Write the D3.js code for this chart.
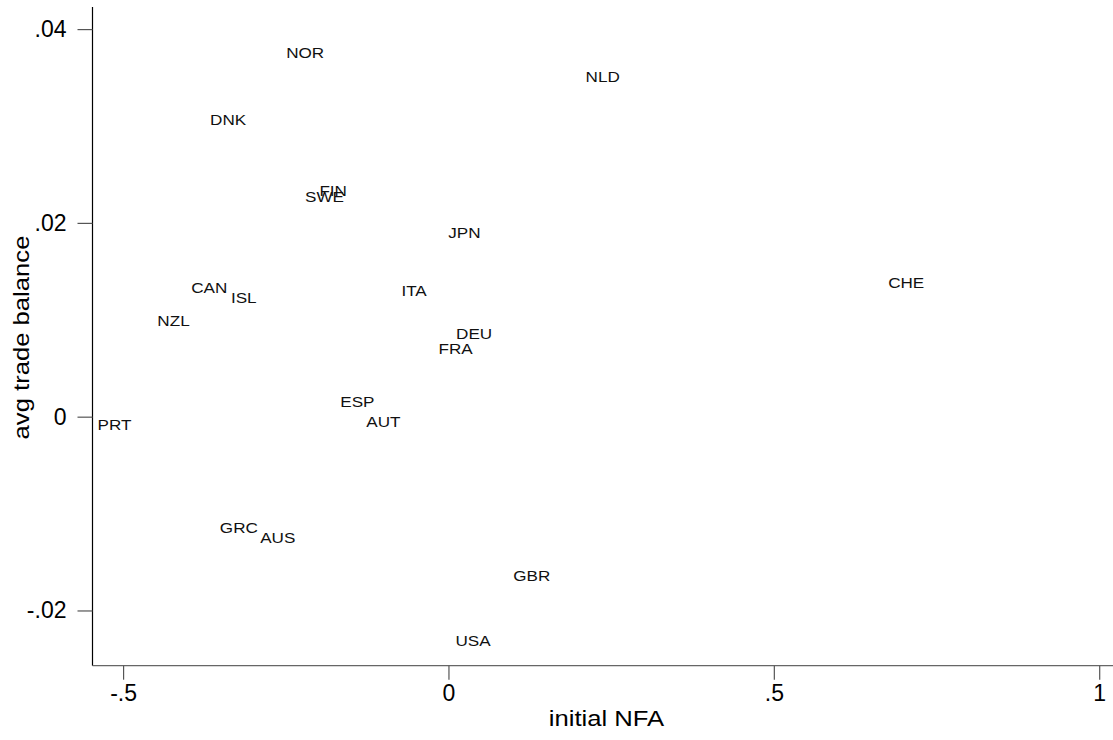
<!DOCTYPE html>
<html>
<head>
<meta charset="utf-8">
<script src="https://cdn.jsdelivr.net/npm/d3@7"></script>
<style>
  html, body { margin: 0; padding: 0; background: #fff; }
  svg { display: block; font-family: "Liberation Sans", Arial, sans-serif; }
</style>
</head>
<body>
<svg id="chart" width="1113" height="740"></svg>
<script>
// Data
const countries = ["NOR","NLD","DNK","FIN","SWE","JPN","CHE","CAN","ISL","ITA","NZL","DEU","FRA","ESP","PRT","AUT","GRC","AUS","GBR","USA"];
const initialNFA = [-0.257, 0.203, -0.374, -0.206, -0.228, -0.008, 0.668, -0.403, -0.342, -0.080, -0.455, 0.004, -0.023, -0.174, -0.547, -0.134, -0.359, -0.297, 0.092, 0.003];
const avgTradeBalance = [0.0376, 0.0351, 0.0306, 0.0233, 0.0227, 0.0190, 0.0138, 0.0133, 0.0123, 0.0130, 0.0099, 0.0086, 0.0070, 0.0015, -0.0008, -0.0005, -0.0115, -0.0125, -0.0164, -0.0231];
const xTicks = [-0.5, 0, 0.5, 1];
const xTickLabels = ["-.5", "0", ".5", "1"];
const yTicks = [-0.02, 0, 0.02, 0.04];
const yTickLabels = ["-.02", "0", ".02", ".04"];

const W = 1113, H = 740;
const pLeft = 92.5, pRight = 1113, pTop = 7, pBottom = 665.7;
const stretch = 1.14; // reference glyphs are wider than Liberation Sans

const x = d3.scaleLinear().domain([-0.547, 1.0212]).range([pLeft, pRight]);
const y = d3.scaleLinear().domain([-0.0257, 0.04228]).range([pBottom, pTop]);

const svg = d3.select("#chart");

// Y axis
const yAxis = svg.append("g").attr("transform", `translate(${pLeft},0)`)
  .call(d3.axisLeft(y).tickValues(yTicks).tickFormat((d,i) => yTickLabels[i]).tickSize(15).tickPadding(11));
yAxis.select(".domain").attr("stroke", "#000").attr("stroke-width", 1.2).attr("d", `M0,${pTop}V${pBottom}`);
yAxis.selectAll(".tick line").attr("stroke", "#555").attr("stroke-width", 1.2);
yAxis.selectAll(".tick text").attr("font-size", 23).attr("fill", "#000")
  .attr("font-family", "'Liberation Sans', Arial, sans-serif");

// X axis
const xAxis = svg.append("g").attr("transform", `translate(0,${pBottom})`)
  .call(d3.axisBottom(x).tickValues(xTicks).tickFormat((d,i) => xTickLabels[i]).tickSize(14).tickPadding(5));
xAxis.select(".domain").attr("stroke", "#666").attr("stroke-width", 1.2).attr("d", `M${pLeft},0H${pRight}`);
xAxis.selectAll(".tick line").attr("stroke", "#555").attr("stroke-width", 1.2);
xAxis.selectAll(".tick text").attr("font-size", 23).attr("fill", "#000")
  .attr("font-family", "'Liberation Sans', Arial, sans-serif");

// Axis titles
svg.append("text").attr("transform", `translate(606.5,725.5) scale(${stretch},1)`)
  .attr("text-anchor", "middle").attr("font-size", 22.5).attr("fill", "#000").text("initial NFA");
svg.append("text").attr("transform", `translate(29,337.5) rotate(-90) scale(${stretch},1)`)
  .attr("text-anchor", "middle").attr("font-size", 22.5).attr("fill", "#000").text("avg trade balance");

// Marker labels (no symbols), placed at clock position 3
const data = countries.map((c, i) => ({ c, nx: initialNFA[i], tb: avgTradeBalance[i] }));
svg.append("g").selectAll("text").data(data).join("text")
  .attr("transform", d => `translate(${x(d.nx) + 5},${y(d.tb)}) scale(${stretch},1)`)
  .attr("dy", "0.35em")
  .attr("font-size", 15)
  .attr("fill", "#111")
  .text(d => d.c);
</script>
</body>
</html>
